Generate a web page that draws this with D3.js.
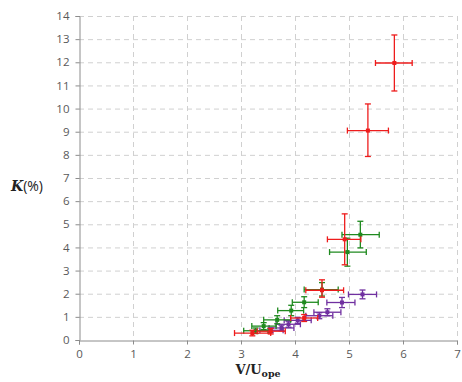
<!DOCTYPE html>
<html><head><meta charset="utf-8">
<script src="https://cdn.jsdelivr.net/npm/d3@7"></script>
<style>body{margin:0;background:#fff}svg{display:block}</style>
</head><body>
<svg id="c" width="462" height="382"></svg>
<script>
const xTicks = [0,1,2,3,4,5,6,7];
const yTicks = [0,1,2,3,4,5,6,7,8,9,10,11,12,13,14];
const redX    = [3.21, 3.55, 4.17, 4.50, 4.92, 5.35, 5.84];
const redY    = [0.30, 0.38, 0.95, 2.15, 4.35, 9.05, 11.97];
const redXLo  = [2.88, 3.30, 3.92, 4.20, 4.60, 4.97, 5.49];
const redXHi  = [3.55, 3.82, 4.42, 4.90, 5.22, 5.73, 6.17];
const redYLo  = [0.18, 0.26, 0.80, 1.85, 3.25, 7.93, 10.76];
const redYHi  = [0.42, 0.50, 1.10, 2.60, 5.45, 10.20, 13.18];

const grnX    = [3.27, 3.42, 3.67, 3.93, 4.17, 4.50, 4.97, 5.21];
const grnY    = [0.40, 0.60, 0.87, 1.27, 1.63, 2.18, 3.80, 4.55];
const grnXLo  = [3.05, 3.20, 3.42, 3.68, 3.95, 4.17, 4.64, 4.87];
const grnXHi  = [3.50, 3.65, 3.92, 4.16, 4.43, 4.80, 5.32, 5.56];
const grnYLo  = [0.28, 0.45, 0.70, 1.05, 1.40, 1.90, 3.19, 3.98];
const grnYHi  = [0.52, 0.75, 1.05, 1.50, 1.87, 2.48, 4.40, 5.13];

const purX    = [3.55, 3.75, 3.88, 4.05, 4.45, 4.60, 4.87, 5.25];
const purY    = [0.42, 0.52, 0.68, 0.85, 1.05, 1.20, 1.62, 1.97];
const purXLo  = [3.35, 3.52, 3.65, 3.80, 4.20, 4.35, 4.59, 4.99];
const purXHi  = [3.78, 3.98, 4.10, 4.30, 4.70, 4.85, 5.11, 5.51];
const purYLo  = [0.32, 0.40, 0.55, 0.72, 0.92, 1.05, 1.40, 1.78];
const purYHi  = [0.52, 0.64, 0.81, 0.98, 1.18, 1.35, 1.84, 2.16];

function rows(X,Y,XL,XH,YL,YH){return X.map((x,i)=>({x,y:Y[i],xl:XL[i],xh:XH[i],yl:YL[i],yh:YH[i]}));}
const series = [
  {name:"purple", color:"#7030a0", data:rows(purX,purY,purXLo,purXHi,purYLo,purYHi)},
  {name:"green",  color:"#1f8a1f", data:rows(grnX,grnY,grnXLo,grnXHi,grnYLo,grnYHi)},
  {name:"red",    color:"#ee1c1c", data:rows(redX,redY,redXLo,redXHi,redYLo,redYHi)}
];

const svg = d3.select("#c");
const L=79, R=457, T=16, B=340;
const x = d3.scaleLinear().domain([0,7]).range([L,R]);
const y = d3.scaleLinear().domain([0,14]).range([B,T]);
const font = "'Open Sans', 'Liberation Sans', sans-serif";

const g = svg.append("g");
g.selectAll(".hg").data(yTicks.slice(1)).join("line")
  .attr("x1",L).attr("x2",R).attr("y1",d=>y(d)+0.5).attr("y2",d=>y(d)+0.5)
  .attr("stroke","#d0d0d0").attr("stroke-dasharray","5,4").attr("stroke-width",1);
g.selectAll(".vg").data(xTicks.slice(1)).join("line")
  .attr("y1",T).attr("y2",B).attr("x1",d=>x(d)+0.5).attr("x2",d=>x(d)+0.5)
  .attr("stroke","#d0d0d0").attr("stroke-dasharray","5,4").attr("stroke-width",1);

const xa = svg.append("g").attr("transform",`translate(0,${B+0.5})`)
  .call(d3.axisBottom(x).tickValues(xTicks).tickFormat(d3.format("d")).tickSize(4).tickPadding(5));
const ya = svg.append("g").attr("transform",`translate(${L+0.5},0)`)
  .call(d3.axisLeft(y).tickValues(yTicks).tickFormat(d3.format("d")).tickSize(4).tickPadding(6));
[xa,ya].forEach(a=>{
  a.select(".domain").attr("stroke","#8c8c8c");
  a.selectAll(".tick line").attr("stroke","#8c8c8c");
  a.selectAll("text").attr("fill","#595959").style("font-family",font).style("font-size","11.5px");
});

series.forEach(s=>{
  const sg = svg.append("g").attr("stroke",s.color).attr("fill",s.color).attr("stroke-width",1.3);
  s.data.forEach(d=>{
    const cx=x(d.x), cy=y(d.y), cap=3;
    sg.append("line").attr("x1",x(d.xl)).attr("x2",x(d.xh)).attr("y1",cy).attr("y2",cy);
    sg.append("line").attr("x1",x(d.xl)).attr("x2",x(d.xl)).attr("y1",cy-cap).attr("y2",cy+cap);
    sg.append("line").attr("x1",x(d.xh)).attr("x2",x(d.xh)).attr("y1",cy-cap).attr("y2",cy+cap);
    sg.append("line").attr("x1",cx).attr("x2",cx).attr("y1",y(d.yl)).attr("y2",y(d.yh));
    sg.append("line").attr("x1",cx-cap).attr("x2",cx+cap).attr("y1",y(d.yl)).attr("y2",y(d.yl));
    sg.append("line").attr("x1",cx-cap).attr("x2",cx+cap).attr("y1",y(d.yh)).attr("y2",y(d.yh));
    sg.append("rect").attr("x",cx-2).attr("y",cy-2).attr("width",4).attr("height",4).attr("stroke","none");
  });
});

const yl = svg.append("text").attr("x",11).attr("y",191).attr("fill","#222")
  .style("font-family","'DejaVu Serif', serif").style("font-size","14px");
yl.append("tspan").text("K").style("font-weight","bold").style("font-style","italic");
yl.append("tspan").text("(%)").style("font-family",font).style("font-size","14px");

const xl = svg.append("text").attr("x",258).attr("y",374).attr("text-anchor","middle").attr("fill","#222")
  .style("font-family","'DejaVu Serif', serif").style("font-size","13px").style("font-weight","bold");
xl.append("tspan").text("V/U");
xl.append("tspan").text("ope").attr("dy",3).style("font-size","9.5px");
</script>
</body></html>
